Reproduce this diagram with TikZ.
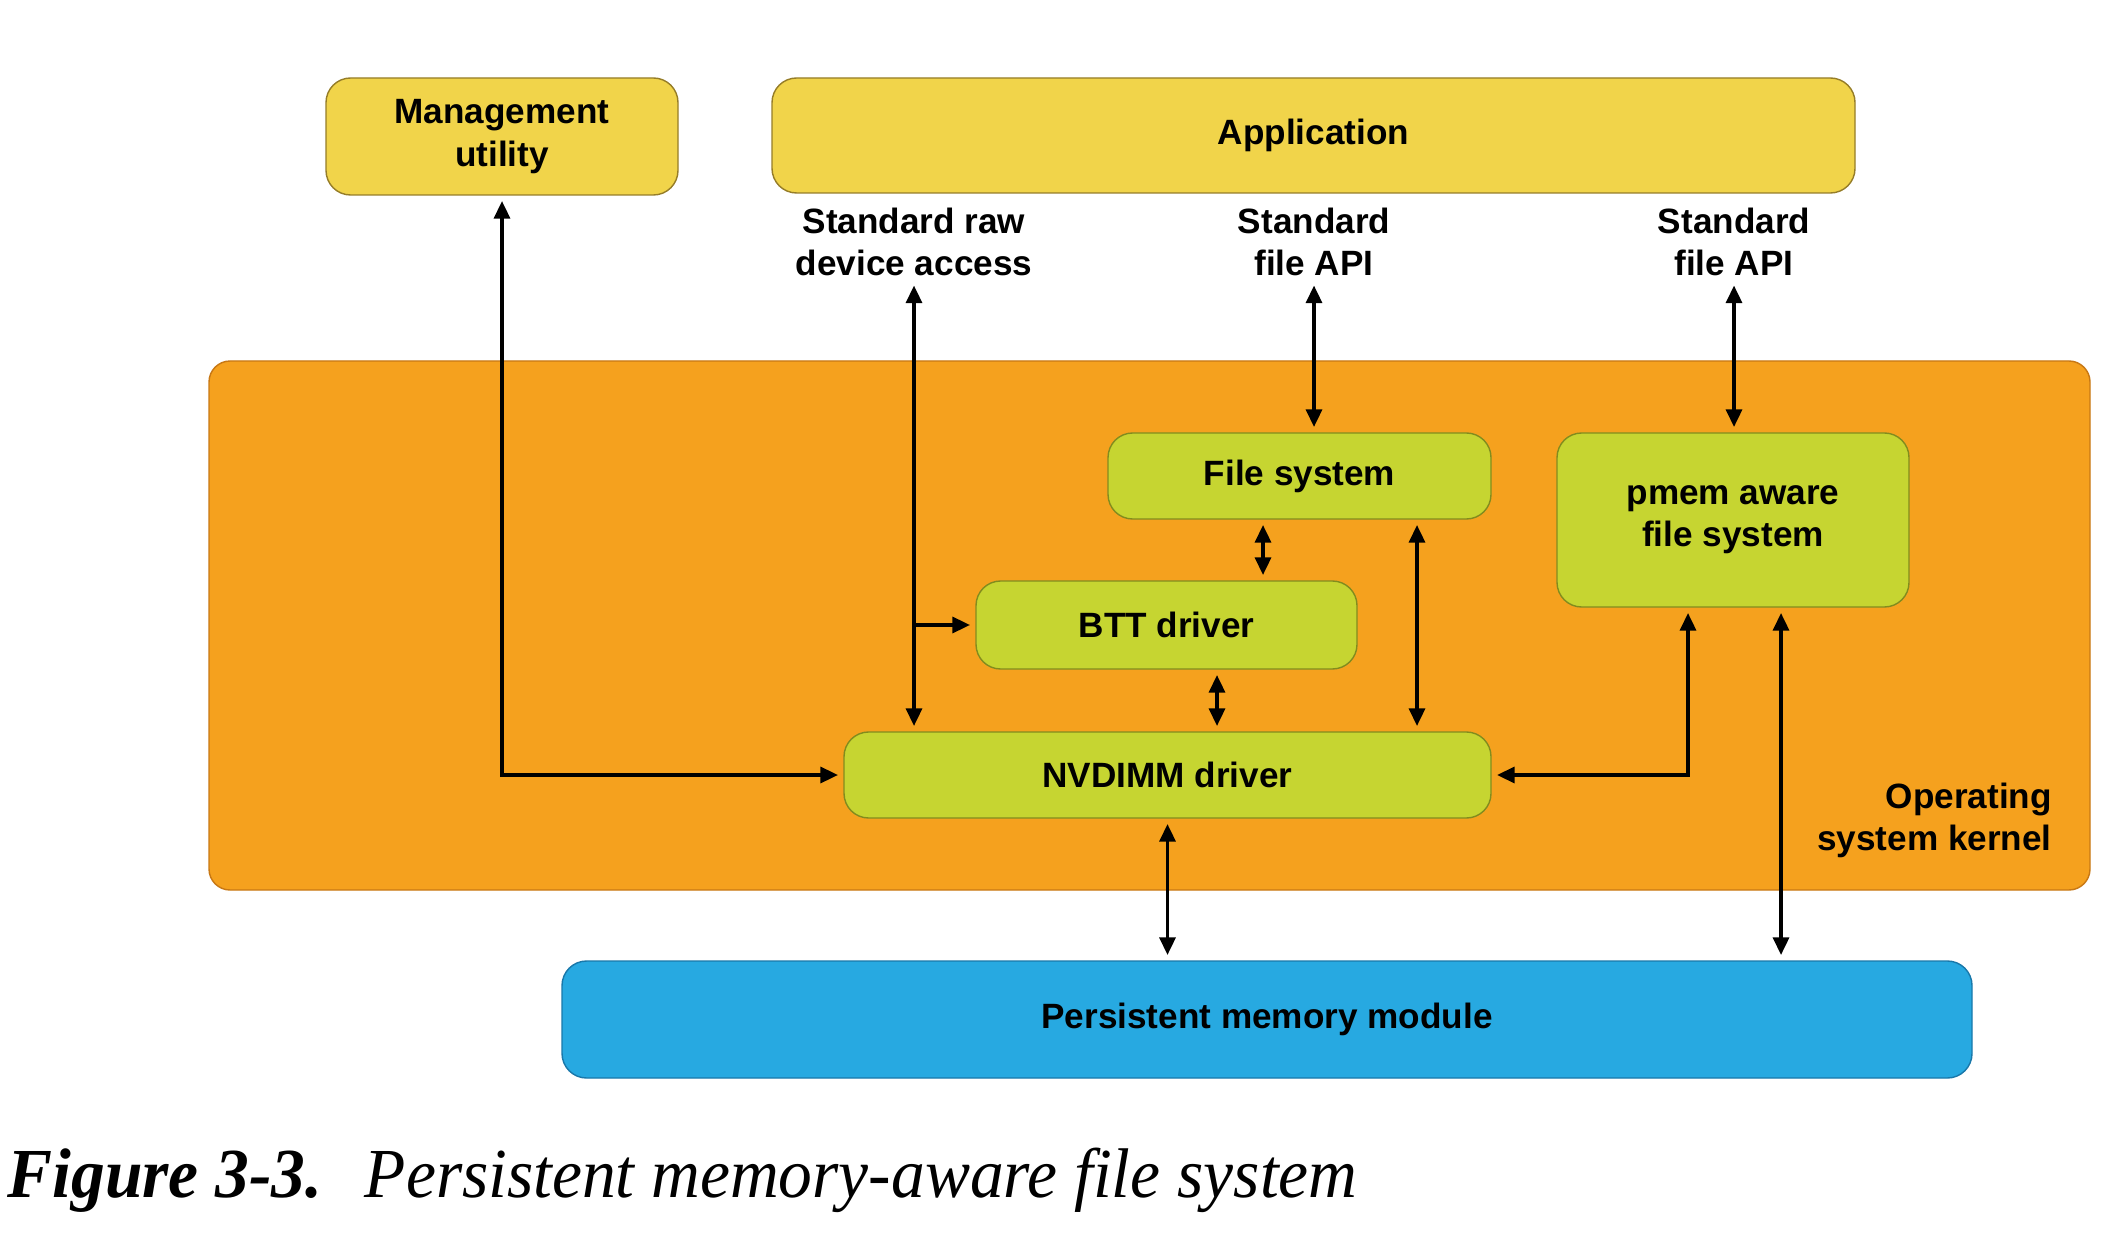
\documentclass[tikz,border=0pt]{standalone}
\usepackage{fontspec}
\setmainfont{Liberation Sans}
\newfontfamily\capfont[FakeStretch=0.96]{Liberation Serif}
\usetikzlibrary{arrows.meta}

\definecolor{userfill}{RGB}{241,212,74}
\definecolor{userdraw}{RGB}{150,125,40}
\definecolor{kernfill}{RGB}{245,161,30}
\definecolor{kerndraw}{RGB}{200,120,20}
\definecolor{drvfill}{RGB}{198,213,49}
\definecolor{drvdraw}{RGB}{130,140,30}
\definecolor{memfill}{RGB}{39,169,225}
\definecolor{memdraw}{RGB}{25,120,170}

\begin{document}
\begin{tikzpicture}[>={Triangle[length=5pt,width=4.5pt]},
	box/.style={draw, rounded corners=7pt, align=center, inner sep=0pt, font=\fontsize{10}{12}\selectfont\bfseries},
	lbl/.style={align=center, inner sep=1pt, font=\fontsize{10}{12}\selectfont\bfseries},
	link/.style={<->, line width=1pt, shorten >=1.5pt, shorten <=1.5pt}]
	% Page
	\useasboundingbox[fill=white] (0,0) rectangle (21.14,-12.42);
	
	% Kernel layer
	\node[box, draw=kerndraw, fill=kernfill, rounded corners=6pt, minimum width=18.81cm, minimum height=5.29cm] (kernel) at (11.495,-6.255) {};
	\node[lbl, anchor=east, align=right] (kernlbl) at (20.56,-8.2) {Operating\\system kernel};
	
	% User space
	\node[box, draw=userdraw, fill=userfill, minimum width=3.52cm, minimum height=1.17cm] (mgmt) at (5.02,-1.365) {Management\\utility};
	\node[box, draw=userdraw, fill=userfill, minimum width=10.83cm, minimum height=1.15cm] (app) at (13.135,-1.355) {Application};
	
	% Interface labels
	\node[lbl] (raw) at (9.14,-2.42) {Standard raw\\device access};
	\node[lbl] (apione) at (13.14,-2.42) {Standard\\file API};
	\node[lbl] (apitwo) at (17.34,-2.42) {Standard\\file API};
	
	% Drivers and file systems
	\node[box, draw=drvdraw, fill=drvfill, minimum width=3.83cm, minimum height=0.86cm] (fs) at (12.995,-4.76) {File system};
	\node[box, draw=drvdraw, fill=drvfill, minimum width=3.52cm, minimum height=1.74cm] (pmemfs) at (17.33,-5.2) {pmem aware\\file system};
	\node[box, draw=drvdraw, fill=drvfill, minimum width=3.81cm, minimum height=0.88cm] (btt) at (11.665,-6.25) {BTT driver};
	\node[box, draw=drvdraw, fill=drvfill, minimum width=6.47cm, minimum height=0.86cm] (nvdimm) at (11.675,-7.75) {NVDIMM driver};
	
	% Hardware
	\node[box, draw=memdraw, fill=memfill, minimum width=14.1cm, minimum height=1.17cm] (pmm) at (12.67,-10.195) {Persistent memory module};
	
	% Connectors
	\coordinate (rawtap) at (raw.south |- btt.west);
	\draw[link] (mgmt.south) |- (nvdimm.west);
	\draw[link] (raw.south) -- (raw.south |- nvdimm.north);
	\draw[->, line width=1pt, shorten >=1.5pt] (rawtap) -- (btt.west);
	\draw[link] (apione.south) -- (apione.south |- fs.north);
	\draw[link] (apitwo.south) -- (apitwo.south |- pmemfs.north);
	\draw[link] (12.63,0 |- fs.south) -- (12.63,0 |- btt.north);
	\draw[link] (12.17,0 |- btt.south) -- (12.17,0 |- nvdimm.north);
	\draw[link] (14.17,0 |- fs.south) -- (14.17,0 |- nvdimm.north);
	\draw[link] ([xshift=-4.5mm]pmemfs.south) |- (nvdimm.east);
	\draw[link] ([xshift=4.8mm]pmemfs.south) -- ([xshift=4.8mm]pmemfs.south |- pmm.north);
	\draw[link] (nvdimm.south) -- (nvdimm.south |- pmm.north);
	
	% Caption
	\node[anchor=base west, inner sep=0pt, font=\capfont\fontsize{20}{24}\selectfont] (caption) at (0.07,-11.97) {\textbf{\textit{Figure 3-3.}}\hspace{0.6em}\textit{Persistent memory-aware file system}};
\end{tikzpicture}
\end{document}
